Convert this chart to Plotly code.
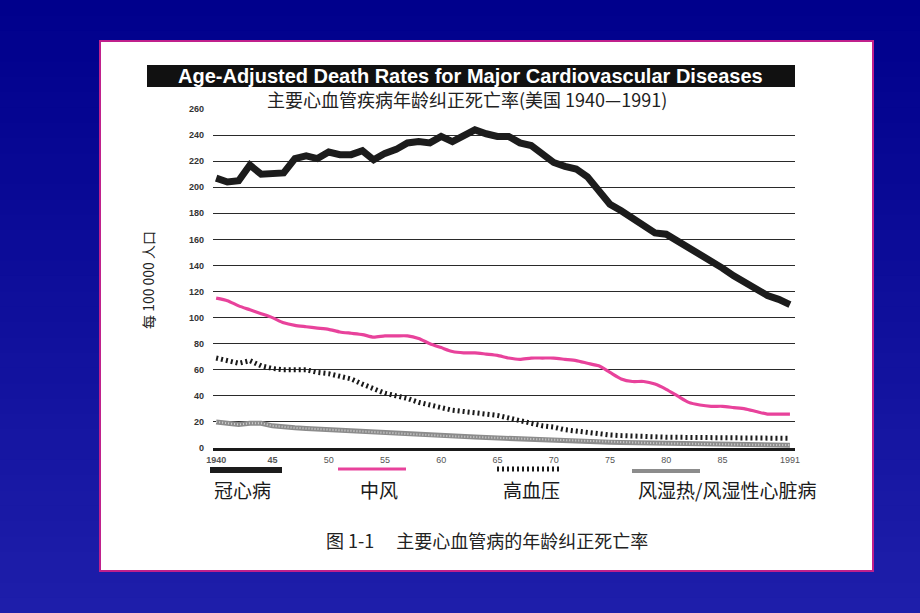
import plotly.graph_objects as go

years = list(range(1940, 1992))

chd = [207, 204, 205, 217, 210, 210, 211, 222, 224, 222,
       227, 225, 225, 228, 221, 226, 229, 234, 235, 234,
       239, 235, 240, 244, 241, 239, 239, 234, 232, 226,
       219, 216, 214, 208, 197, 187, 182, 176, 171, 165,
       164, 159, 154, 149, 143, 138, 132, 127, 122, 117,
       114, 110]

stroke = [115, 113, 109, 106, 103, 100, 96, 94, 93, 92,
          91, 89, 88, 87, 85, 86, 86, 86, 84, 80,
          77, 74, 73, 73, 72, 71, 69, 68, 69, 69,
          69, 68, 67, 65, 63, 58, 53, 51, 51, 49,
          45, 40, 35, 33, 32, 32, 31, 30, 28, 26,
          26, 26]

hypertension = [69, 67, 65, 67, 63, 61, 60, 60, 60, 58,
                57, 55, 53, 49, 45, 42, 40, 38, 35, 33,
                31, 29, 28, 27, 26, 25, 23, 21, 19, 17,
                16, 14, 13, 12, 10.5, 10, 9.5, 9, 8.8, 8.5,
                8.3, 8.2, 8.1, 8, 8, 7.8, 7.7, 7.6, 7.5, 7.5,
                7.4, 7.4]

rheumatic = [20, 19, 18, 19, 19, 17, 16, 15.5, 15, 14.5,
             14, 13.5, 13, 12.5, 12, 11.5, 11, 10.5, 10, 9.5,
             9.2, 9, 8.7, 8.4, 8, 7.6, 7.2, 6.8, 6.5, 6.2,
             6, 5.7, 5.4, 5.1, 4.8, 4.5, 4.3, 4.1, 3.9, 3.7,
             3.5, 3.3, 3.1, 3, 2.9, 2.8, 2.7, 2.6, 2.5, 2.4,
             2.3, 2.2]

series_names = ["冠心病", "中风", "高血压", "风湿热/风湿性心脏病"]
x_tickvals = [1940, 1945, 1950, 1955, 1960, 1965, 1970, 1975, 1980, 1985, 1991]
x_ticktext = ["<b>1940</b>", "<b>45</b>", "50", "55", "60", "65", "70", "75", "80", "85", "1991"]
y_tickvals = list(range(0, 261, 20))

title_en = "Age-Adjusted Death Rates for Major Cardiovascular Diseases"
title_cn = "主要心血管疾病年龄纠正死亡率(美国 1940—1991)"
y_title = "每 100 000 人口"
caption = "图 1-1　 主要心血管病的年龄纠正死亡率"

W, H = 920, 613
L, R, T, B = 213, 125, 109, 165
PW, PH = W - L - R, H - T - B


def px(x):
    return (x - L) / PW


def py(y):
    return (H - B - y) / PH


CJK = "Noto Sans CJK SC"

fig = go.Figure()

fig.add_trace(go.Scatter(x=years, y=rheumatic, mode="lines", name=series_names[3],
                         line=dict(color="#8c8c8c", width=5)))
fig.add_trace(go.Scatter(x=years, y=rheumatic, mode="lines", showlegend=False,
                         line=dict(color="#cfcfcf", width=2, dash="1px,2px")))
fig.add_trace(go.Scatter(x=years, y=hypertension, mode="lines", name=series_names[2],
                         line=dict(color="#1a1a1a", width=5, dash="2px,3px")))
fig.add_trace(go.Scatter(x=years, y=stroke, mode="lines", name=series_names[1],
                         line=dict(color="#e8429b", width=3.2, shape="spline", smoothing=0.6)))
fig.add_trace(go.Scatter(x=years, y=chd, mode="lines", name=series_names[0],
                         line=dict(color="#1c1c1c", width=7)))

shapes = []
# background gradient
n = 40
top_c = (0, 0, 140)
bot_c = (30, 30, 170)
for i in range(n):
    t = i / (n - 1)
    c = tuple(int(round(top_c[k] + (bot_c[k] - top_c[k]) * t)) for k in range(3))
    y0 = H * i / n
    y1 = H * (i + 1) / n + 1
    shapes.append(dict(type="rect", xref="paper", yref="paper", layer="below",
                       x0=px(-2), x1=px(W + 2), y0=py(y1), y1=py(y0),
                       fillcolor="rgb(%d,%d,%d)" % c, line=dict(width=0)))
# white panel
shapes.append(dict(type="rect", xref="paper", yref="paper", layer="below",
                   x0=px(100), x1=px(873), y0=py(571), y1=py(41),
                   fillcolor="white", line=dict(color="#c0208c", width=2)))
# title bar
shapes.append(dict(type="rect", xref="paper", yref="paper", layer="below",
                   x0=px(147), x1=px(795), y0=py(87), y1=py(65),
                   fillcolor="#111111", line=dict(width=0)))
# legend samples
shapes.append(dict(type="line", xref="paper", yref="paper", x0=px(210), x1=px(282),
                   y0=py(470), y1=py(470), line=dict(color="#1c1c1c", width=6)))
shapes.append(dict(type="line", xref="paper", yref="paper", x0=px(338), x1=px(406),
                   y0=py(469), y1=py(469), line=dict(color="#e8429b", width=3)))
shapes.append(dict(type="line", xref="paper", yref="paper", x0=px(497), x1=px(562),
                   y0=py(469), y1=py(469), line=dict(color="#1a1a1a", width=5, dash="2px,3px")))
shapes.append(dict(type="line", xref="paper", yref="paper", x0=px(632), x1=px(700),
                   y0=py(471), y1=py(471), line=dict(color="#8c8c8c", width=4)))

annotations = [
    dict(text="<b>" + title_en + "</b>", x=px(470), y=py(76), xref="paper", yref="paper",
         showarrow=False, font=dict(family="Liberation Sans, Arial", size=20, color="white"),
         xanchor="center", yanchor="middle"),
    dict(text=title_cn, x=px(467), y=py(99), xref="paper", yref="paper",
         showarrow=False, font=dict(family=CJK, size=18, color="#222"),
         xanchor="center", yanchor="middle"),
    dict(text=y_title, x=px(148), y=py(280), xref="paper", yref="paper", textangle=-90,
         showarrow=False, font=dict(family=CJK, size=14, color="#222"),
         xanchor="center", yanchor="middle"),
    dict(text=caption, x=px(487), y=py(540), xref="paper", yref="paper",
         showarrow=False, font=dict(family=CJK, size=18, color="#222"),
         xanchor="center", yanchor="middle"),
]
legend_pos = [(242, series_names[0]), (379, series_names[1]), (531, series_names[2]), (727, series_names[3])]
for xc, name in legend_pos:
    annotations.append(dict(text=name, x=px(xc), y=py(489), xref="paper", yref="paper",
                            showarrow=False, font=dict(family=CJK, size=19, color="#1a1a1a"),
                            xanchor="center", yanchor="middle"))

fig.update_layout(
    width=W, height=H,
    margin=dict(l=L, r=R, t=T, b=B, pad=0),
    paper_bgcolor="rgb(0,0,140)",
    plot_bgcolor="rgba(0,0,0,0)",
    showlegend=False,
    shapes=shapes,
    annotations=annotations,
    xaxis=dict(range=[1939.72, 1991.45], tickmode="array", tickvals=x_tickvals,
               ticktext=x_ticktext, showgrid=False, zeroline=False,
               showline=True, linecolor="#1a1a1a", linewidth=2.5, ticks="",
               tickfont=dict(family="Liberation Sans, Arial", size=9, color="#555"),
               ticklabelstandoff=1, fixedrange=True),
    yaxis=dict(range=[0, 260], tickmode="array", tickvals=y_tickvals,
               showgrid=True, gridcolor="#2a2a2a", gridwidth=1.4, zeroline=False,
               showline=False, ticks="", ticklabelstandoff=8,
               tickfont=dict(family="Liberation Sans, Arial", size=9, color="#333", weight="bold"),
               fixedrange=True),
)

fig.write_html("out.html", config={"displayModeBar": False},
               post_script="document.body.style.margin='0';document.body.style.overflow='hidden';")
